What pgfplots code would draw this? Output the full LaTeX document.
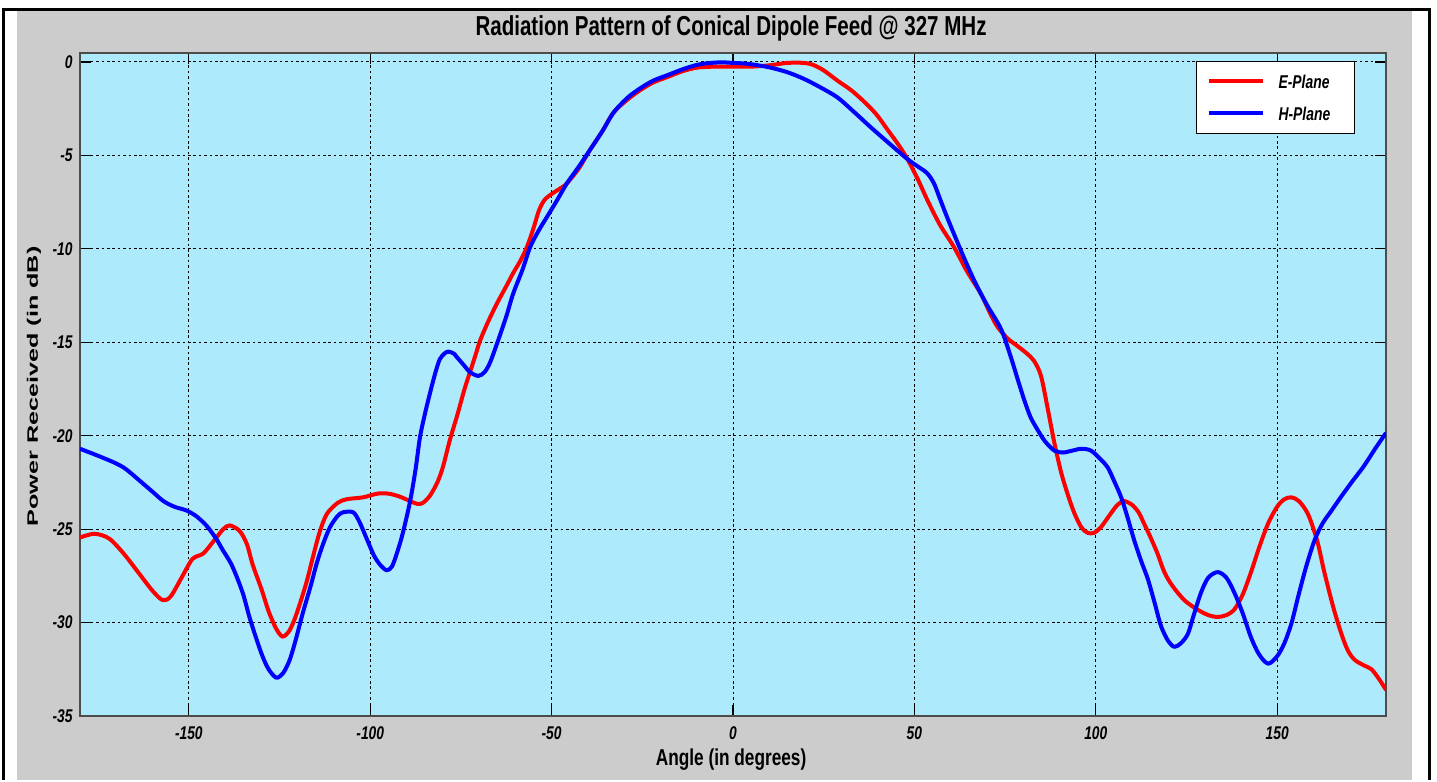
\documentclass[border=0pt]{standalone}
\usepackage{fontspec}
\setmainfont{Liberation Sans}[FakeStretch=0.75]
\newfontfamily\yfont{Liberation Sans}
\usepackage{graphicx}
\usepackage{pgfplots}
\pgfplotsset{compat=1.18}
\definecolor{axbg}{RGB}{173,235,252}
\definecolor{figbg}{RGB}{204,204,204}

\pgfplotstableread{
x y
-180 -25.45
-176 -25.25
-172 -25.5
-168 -26.3
-164 -27.3
-160 -28.3
-157.2 -28.8
-155 -28.6
-152 -27.6
-149 -26.6
-146 -26.3
-143 -25.6
-140.5 -25.0
-138.7 -24.8
-136 -25.1
-134 -25.8
-132.4 -26.9
-130 -28.2
-128 -29.4
-126 -30.3
-124.2 -30.75
-122.5 -30.5
-121 -29.9
-119.4 -29.0
-117.5 -27.8
-115.8 -26.5
-114 -25.2
-112 -24.2
-109 -23.6
-106.5 -23.4
-102 -23.3
-98 -23.1
-95 -23.1
-92 -23.25
-89 -23.5
-87 -23.65
-85.5 -23.6
-83.5 -23.2
-81.5 -22.5
-80 -21.7
-78 -20.2
-76 -18.9
-74 -17.5
-72.5 -16.6
-71 -15.7
-69.7 -14.9
-67.5 -13.9
-65 -12.9
-62.5 -12.0
-60.6 -11.3
-58.5 -10.6
-56.8 -9.9
-55 -8.9
-53.4 -7.9
-51.8 -7.35
-49.5 -7.0
-47.5 -6.75
-45.8 -6.5
-42.5 -5.7
-39.4 -4.7
-36 -3.7
-32.9 -2.7
-29 -2.0
-25.5 -1.5
-22 -1.1
-18 -0.8
-14 -0.5
-9.8 -0.3
-5 -0.25
0 -0.25
5 -0.25
10 -0.18
15 -0.05
19.5 -0.05
22 -0.15
25 -0.45
28.8 -1.0
32.5 -1.5
36 -2.1
39.5 -2.8
42.5 -3.6
45.5 -4.4
48.1 -5.2
51 -6.3
53.6 -7.4
57 -8.7
60.9 -9.9
64.5 -11.2
68.3 -12.4
71 -13.5
73 -14.2
75.7 -14.8
78.4 -15.2
81 -15.6
83 -16.0
84.9 -16.8
86.7 -18.5
88.6 -20.4
90.5 -22.0
92.2 -23.1
94 -24.1
96 -24.9
97.8 -25.2
99.5 -25.2
101.4 -24.9
104 -24.2
106 -23.7
107.8 -23.5
110 -23.7
111.8 -24.1
113.3 -24.7
115 -25.4
117 -26.3
118.9 -27.3
121 -28.0
124.4 -28.8
128 -29.3
131 -29.6
133.6 -29.7
136 -29.6
138.2 -29.3
140.5 -28.5
142.8 -27.3
145 -26.0
147.5 -24.7
150 -23.8
152 -23.4
153.9 -23.3
156 -23.5
158.5 -24.2
161 -25.6
163 -27.3
165.5 -29.2
167.7 -30.6
169.5 -31.5
171.4 -32.0
174 -32.3
176 -32.5
178 -33.0
180 -33.6
}\eplane

\pgfplotstableread{
x y
-180 -20.7
-176 -21.0
-171 -21.4
-168 -21.7
-166 -22.0
-163 -22.5
-160 -23.0
-157 -23.5
-154 -23.8
-150.7 -24.0
-148 -24.3
-145.2 -24.8
-142.5 -25.5
-140.7 -26.1
-138.5 -26.8
-136.9 -27.5
-135 -28.5
-133.3 -29.7
-131.5 -30.8
-129.7 -31.8
-128 -32.5
-125.9 -32.95
-124 -32.7
-122.2 -32.0
-120.5 -30.9
-118.6 -29.5
-116.5 -28.1
-114.7 -26.8
-113 -25.8
-111.1 -24.9
-109 -24.3
-107.5 -24.1
-104.7 -24.1
-103 -24.6
-101 -25.5
-99 -26.4
-97.3 -26.9
-95.5 -27.2
-94 -27.0
-92.5 -26.2
-91 -25.2
-89 -23.5
-87.5 -21.8
-86.3 -20.1
-85 -18.9
-83.5 -17.7
-82 -16.6
-80.8 -15.9
-79.5 -15.6
-78.5 -15.5
-77 -15.6
-76.1 -15.8
-74.3 -16.2
-72.5 -16.6
-70.2 -16.8
-68.5 -16.6
-67 -16.1
-65.1 -15.1
-63.5 -14.2
-62.3 -13.5
-60.6 -12.4
-58 -11.1
-55.9 -9.9
-53.5 -9.0
-51.3 -8.3
-48.5 -7.4
-45.8 -6.5
-42.5 -5.6
-39.4 -4.7
-36 -3.7
-32.9 -2.7
-29 -1.9
-25.5 -1.4
-22 -1.0
-18 -0.7
-14 -0.4
-9.8 -0.15
-6 -0.05
-3 -0.02
0 -0.05
3 -0.08
6 -0.15
10.3 -0.3
15 -0.55
19.5 -0.9
24 -1.35
28.8 -1.9
33.5 -2.7
38 -3.5
43 -4.35
48.1 -5.2
51 -5.6
53.5 -5.95
55.4 -6.5
57 -7.3
59 -8.3
60.9 -9.2
63.5 -10.4
66.5 -11.7
70 -13.0
73.9 -14.3
76.6 -15.8
78.5 -17.0
80.3 -18.1
82 -19.0
84 -19.7
86 -20.3
88.6 -20.8
91 -20.9
93.5 -20.8
96 -20.7
98.7 -20.8
101.5 -21.3
103.3 -21.7
105 -22.4
107 -23.3
108.8 -24.4
110.6 -25.6
112.5 -26.7
114.4 -27.7
116.3 -29.0
118 -30.2
120 -31.0
121.7 -31.3
123.5 -31.1
125.4 -30.6
127 -29.6
129 -28.4
131 -27.6
133.6 -27.3
136 -27.6
138.2 -28.4
140.5 -29.5
142.8 -30.8
145 -31.7
147.5 -32.2
150 -31.8
152 -31.1
154 -30.0
155.8 -28.6
158 -27.0
160.3 -25.6
162.5 -24.7
165 -24.0
167.5 -23.3
170.5 -22.5
174 -21.6
177 -20.7
180 -19.85
}\hplane

\begin{document}
\begin{tikzpicture}
\fill[white] (-40pt,-32pt) rectangle (678.5pt,358pt);
\fill[figbg] (-31.25pt,-32pt) rectangle (666pt,352.65pt);
\draw[line width=1.5pt] (-38.4pt,-32pt) -- (-38.4pt,353.25pt) -- (674.5pt,353.25pt) -- (674.5pt,-32pt);
\begin{axis}[
  at={(0pt,0pt)}, anchor=south west,
  scale only axis, width=653pt, height=331.5pt,
  xmin=-180, xmax=180, ymin=-35, ymax=0.48,
  xtick={-150,-100,...,150}, ytick={-35,-30,...,0},
  axis background/.style={fill=axbg},
  axis line style={black!70, line width=0.7pt},
  tick align=inside, major tick length=5.5pt,
  tick style={black, line width=0.6pt},
  grid=major,
  major grid style={black, line width=0.5pt, dash pattern=on 1.3pt off 1.4pt},
  /pgf/number format/assume math mode=true,
  ticklabel style={font=\fontsize{9.2}{10}\selectfont\bfseries\itshape, inner sep=0pt},
  xticklabel style={anchor=north, yshift=-5.3pt},
  yticklabel style={anchor=east, xshift=-3.5pt},
  every axis title shift=0pt,
  title={Radiation Pattern of Conical Dipole Feed @ 327 MHz},
  title style={at={(axis description cs:0.4985,1.0377)}, anchor=center, font=\fontsize{13.7}{15}\selectfont\bfseries, inner sep=0pt},
  xlabel={Angle (in degrees)},
  xlabel style={at={(axis description cs:0.4985,0)}, anchor=center, yshift=-22pt, font=\fontsize{11.5}{13}\selectfont\bfseries, inner sep=0pt},
  ylabel={\scalebox{1}[0.6]{\yfont\fontsize{12.6}{14}\selectfont\bfseries Power Received (in dB)}},
  ylabel style={at={(axis description cs:-0.0352,0.497)}, anchor=center, inner sep=0pt},
  legend style={at={(0.9763,0.988)}, anchor=north east, draw=black, line width=0.5pt, fill=white,
    font=\fontsize{9.26}{10}\selectfont\bfseries\itshape,
    inner xsep=5pt, inner ysep=6.6pt, row sep=9.3pt, column sep=7pt,
    nodes={inner sep=0pt, text depth=0pt}},
  legend cell align=left,
  legend image code/.code={\draw[#1] (0pt,0pt) -- (27pt,0pt);},
]
\addplot[red, line width=2pt, line join=round, smooth, tension=0.5] table[x=x,y=y] {\eplane};
\addlegendentry{\makebox[33pt][l]{E-Plane}}
\addplot[blue, line width=2pt, line join=round, smooth, tension=0.5] table[x=x,y=y] {\hplane};
\addlegendentry{\makebox[33pt][l]{H-Plane}}
\end{axis}
\end{tikzpicture}
\end{document}
